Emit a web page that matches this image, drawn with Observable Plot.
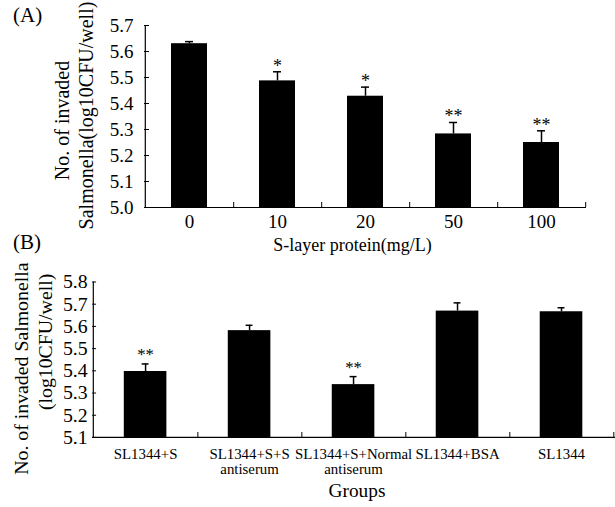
<!DOCTYPE html>
<html>
<head>
<meta charset="utf-8">
<script src="https://cdn.jsdelivr.net/npm/d3@7"></script>
<script src="https://cdn.jsdelivr.net/npm/@observablehq/plot@0.6"></script>
<style>
  html, body { margin: 0; padding: 0; background: #fff; overflow: hidden; }
  #wrap { position: relative; width: 615px; height: 507px; overflow: hidden; background: #fff;
          font-family: "Liberation Serif", "Times New Roman", serif; color: #000; }
  #wrap svg { position: absolute; left: 0; }
  .plabel { position: absolute; font-size: 21px; line-height: 1; }
</style>
</head>
<body>
<div id="wrap">
  <div class="plabel" style="left:13px; top:5px;">(A)</div>
  <div class="plabel" style="left:13px; top:232px;">(B)</div>
</div>
<script>
// ---------- Panel A data ----------
const doses = ["0", "10", "20", "50", "100"];
const meansA = [5.630, 5.487, 5.428, 5.283, 5.250];
const errA = [0.008, 0.035, 0.035, 0.044, 0.045];
const sigA = ["", "*", "*", "**", "**"];
const yTicksA = [5.0, 5.1, 5.2, 5.3, 5.4, 5.5, 5.6, 5.7];
const xLabelA = "S-layer protein(mg/L)";
const yLabelA1 = "No. of invaded";
const yLabelA2 = "Salmonella(log10CFU/well)";

// ---------- Panel B data ----------
const groups = ["SL1344+S", "SL1344+S+S\nantiserum", "SL1344+S+Normal\nantiserum", "SL1344+BSA", "SL1344"];
const meansB = [5.397, 5.581, 5.338, 5.669, 5.666];
const errB = [0.034, 0.024, 0.036, 0.037, 0.018];
const sigB = ["**", "", "**", "", ""];
const yTicksB = [5.1, 5.2, 5.3, 5.4, 5.5, 5.6, 5.7, 5.8];
const xLabelB = "Groups";
const yLabelB1 = "No. of invaded Salmonella";
const yLabelB2 = "(log10CFU/well)";

const font = "Liberation Serif, Times New Roman, serif";
const wrap = document.getElementById("wrap");

// ---------- Panel A ----------
{
  const W = 615, H = 255, mL = 144, mR = 29, mT = 25, mB = 48;
  const step = (W - mL - mR) / doses.length;
  const data = doses.map((d, i) => ({dose: d, mean: meansA[i], hi: meansA[i] + errA[i], sig: sigA[i]}));
  const p = Plot.plot({
    width: W, height: H, marginLeft: mL, marginRight: mR, marginTop: mT, marginBottom: mB,
    style: {fontFamily: font, fontSize: "19px", background: "transparent", color: "black", overflow: "visible"},
    x: {domain: doses, paddingInner: 0.59, paddingOuter: 0.295, label: null},
    y: {domain: [5.0, 5.7], label: null},
    marks: [
      Plot.barY(data, {x: "dose", y1: 5.0, y2: "mean", fill: "black"}),
      Plot.ruleX(data, {x: "dose", y1: "mean", y2: "hi", stroke: "black", strokeWidth: 1.5}),
      Plot.tickY(data, {x: "dose", y: "hi", stroke: "black", strokeWidth: 1.5, insetLeft: 14, insetRight: 14}),
      Plot.text(data, {x: "dose", y: "hi", text: "sig", dy: -6, fontSize: 18, fill: "black"}),
      Plot.ruleY([5.0], {stroke: "black", strokeWidth: 1.2}),
      Plot.ruleX([doses[0]], {dx: -step / 2, stroke: "black", strokeWidth: 1.2}),
      Plot.axisY({ticks: yTicksA, tickFormat: d3.format(".1f"), tickSize: -5, tickPadding: 16, fontSize: 19, label: null}),
      Plot.axisX({tickSize: 0, tickPadding: 7, fontSize: 19, label: null}),
      Plot.axisX({tickSize: -5, dx: step / 2, tickFormat: () => "", label: null}),
      Plot.text([xLabelA], {frameAnchor: "bottom", textAnchor: "middle", lineAnchor: "middle", dy: 38, dx: -13, fontSize: 18, fill: "black"}),
      Plot.text([yLabelA1], {frameAnchor: "left", textAnchor: "middle", lineAnchor: "middle", rotate: -90, dx: -82, dy: 4, fontSize: 20, fill: "black"}),
      Plot.text([yLabelA2], {frameAnchor: "left", textAnchor: "middle", lineAnchor: "middle", rotate: -90, dx: -58, dy: -1, fontSize: 20, fill: "black"})
    ]
  });
  p.style.top = "0px";
  wrap.appendChild(p);
}

// ---------- Panel B ----------
{
  const W = 621, H = 277, mL = 93, mR = 0, mT = 52, mB = 68;
  const step = (W - mL - mR) / groups.length;
  const data = groups.map((g, i) => ({group: g, mean: meansB[i], hi: meansB[i] + errB[i], sig: sigB[i]}));
  const p = Plot.plot({
    width: W, height: H, marginLeft: mL, marginRight: mR, marginTop: mT, marginBottom: mB,
    style: {fontFamily: font, fontSize: "15px", background: "transparent", color: "black", overflow: "visible"},
    x: {domain: groups, paddingInner: 0.59, paddingOuter: 0.295, label: null},
    y: {domain: [5.1, 5.8], label: null},
    marks: [
      Plot.barY(data, {x: "group", y1: 5.1, y2: "mean", fill: "black"}),
      Plot.ruleX(data, {x: "group", y1: "mean", y2: "hi", stroke: "black", strokeWidth: 1.5}),
      Plot.tickY(data, {x: "group", y: "hi", stroke: "black", strokeWidth: 1.5, insetLeft: 18, insetRight: 18}),
      Plot.text(data, {x: "group", y: "hi", text: "sig", dy: -9, fontSize: 17, fill: "black"}),
      Plot.ruleY([5.1], {stroke: "black", strokeWidth: 1.2}),
      Plot.ruleX([groups[0]], {dx: -step / 2, stroke: "black", strokeWidth: 1.2}),
      Plot.axisY({ticks: yTicksB, tickFormat: d3.format(".1f"), tickSize: -4, tickPadding: 9, fontSize: 20, label: null}),
      Plot.axisX({tickSize: 0, tickPadding: 11, fontSize: 15, lineHeight: 1, label: null}),
      Plot.axisX({tickSize: -5, dx: step / 2, tickFormat: () => "", label: null}),
      Plot.text([xLabelB], {frameAnchor: "bottom", textAnchor: "middle", lineAnchor: "middle", dy: 54, dx: 3, fontSize: 19.5, fill: "black"}),
      Plot.text([yLabelB1], {frameAnchor: "left", textAnchor: "middle", lineAnchor: "middle", rotate: -90, dx: -72, dy: 9, fontSize: 20, fill: "black"}),
      Plot.text([yLabelB2], {frameAnchor: "left", textAnchor: "middle", lineAnchor: "middle", rotate: -90, dx: -47, dy: -18, fontSize: 20, fill: "black"})
    ]
  });
  p.style.top = "230px";
  wrap.appendChild(p);
}
</script>
</body>
</html>
